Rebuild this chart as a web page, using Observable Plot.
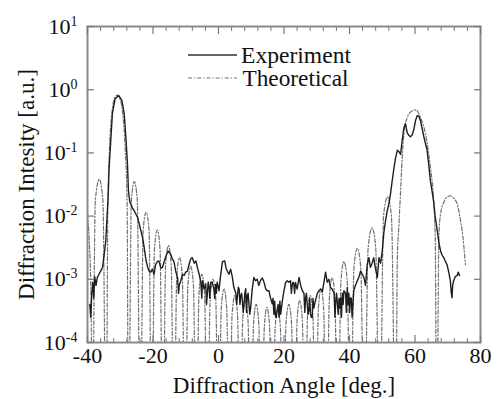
<!DOCTYPE html>
<html><head><meta charset="utf-8">
<script src="https://cdn.jsdelivr.net/npm/d3@7"></script>
<script src="https://cdn.jsdelivr.net/npm/@observablehq/plot@0.6"></script>
<style>html,body{margin:0;padding:0;background:#fff;}</style>
</head><body><div id="chart"></div>
<script>
const seriesNames = ["Experiment", "Theoretical"];
const xTitle = "Diffraction Angle [deg.]";
const yTitle = "Diffraction Intesity [a.u.]";
const xMajor = [-40, -20, 0, 20, 40, 60, 80];
const xMinor = [-36,-32,-28,-24,-16,-12,-8,-4,4,8,12,16,24,28,32,36,44,48,52,56,64,68,72,76];
const yTicks = [1e-4, 1e-3, 1e-2, 1e-1, 1, 10];

// Experiment [angle, intensity]
const experiment = [
[-39.3,0.0004],[-39.0,0.00025],[-38.7,0.0006],[-38.4,0.0009],[-38.1,0.0005],[-37.8,0.0011],[-37.4,0.0008],
[-37.0,0.00107],[-36.5,0.0012],[-36.0,0.00135],[-35.4,0.00155],[-34.9,0.0025],[-34.4,0.0041],[-34.1,0.0085],
[-33.7,0.020],[-33.4,0.059],[-32.9,0.155],[-32.4,0.42],[-31.6,0.71],[-30.5,0.81],[-29.5,0.68],[-28.8,0.42],
[-28.3,0.18],[-27.8,0.068],[-27.5,0.025],[-27.1,0.017],[-26.8,0.0155],[-26.3,0.0135],[-25.8,0.0123],
[-25.2,0.0107],[-24.7,0.0095],[-24.2,0.0075],[-23.7,0.0059],[-23.2,0.0046],[-22.7,0.0032],[-22.2,0.0021],
[-21.7,0.0016],[-21.2,0.00135],[-20.7,0.0013],[-20.2,0.00145],[-19.7,0.0012],[-19.2,0.0017],[-18.7,0.0019],
[-18.2,0.00195],[-17.6,0.0015],[-17.1,0.00155],[-16.6,0.0019],[-16.1,0.0023],[-15.4,0.0028],[-14.6,0.0025],
[-14.1,0.0021],[-13.6,0.0019],[-13.0,0.0013],[-12.5,0.00107],[-12.2,0.0006],[-12.0,0.0008],[-11.5,0.00095],
[-11.0,0.0012],[-10.5,0.00115],[-10.0,0.0013],[-9.5,0.00135],[-9.0,0.0017],[-8.5,0.0021],[-8.0,0.0022],
[-7.4,0.0018],[-6.9,0.00195],[-6.4,0.0015],[-5.9,0.0012],[-5.4,0.0009],[-5.1,0.0005],[-4.9,0.00095],
[-4.4,0.0007],[-3.9,0.00085],[-3.65,0.0004],[-3.4,0.0006],[-3.15,0.0009],[-2.9,0.00074],[-2.65,0.0005],
[-2.4,0.0009],[-1.9,0.00089],[-1.4,0.0007],[-1.15,0.0005],[-0.9,0.00083],[-0.65,0.0006],[-0.4,0.0009],
[0.15,0.00066],[0.6,0.0011],[1.2,0.0019],[1.9,0.00195],[2.3,0.0015],
[2.7,0.00135],[3.2,0.0012],[3.7,0.00145],[4.2,0.0011],[4.7,0.00074],[5.3,0.0006],[5.55,0.0004],[5.8,0.00055],
[6.05,0.00075],[6.3,0.0007],[6.55,0.0004],[6.8,0.00055],[7.05,0.0006],[7.3,0.00045],[7.55,0.0003],[7.8,0.00041],
[8.05,0.0006],[8.3,0.00071],[8.55,0.0003],[8.8,0.00055],[9.05,0.0006],[9.3,0.0004],[9.55,0.00028],
[9.8,0.00035],[10.3,0.0007],[10.8,0.00107],[11.3,0.00095],[11.8,0.001],[12.3,0.0008],[12.8,0.00095],
[13.4,0.00105],[13.9,0.0009],[14.4,0.00071],[14.9,0.00066],[15.4,0.00066],[15.9,0.0005],[16.4,0.00041],
[16.65,0.0005],[16.9,0.00028],[17.15,0.00045],[17.4,0.00026],[17.65,0.00025],[17.9,0.00032],[18.2,0.0004],
[18.5,0.00025],[18.75,0.00045],[19.0,0.00028],[19.5,0.00046],[20.0,0.00066],
[20.5,0.00089],[21.0,0.00095],[21.5,0.0009],[22.0,0.00095],[22.25,0.0006],[22.5,0.0008],[22.75,0.0009],
[23.0,0.00085],[23.25,0.0006],[23.5,0.00089],
[24.0,0.0007],[24.6,0.00107],[25.1,0.0008],[25.6,0.00066],[26.1,0.0006],[26.35,0.0003],[26.6,0.00051],
[26.85,0.0006],[27.1,0.0004],[27.35,0.00028],[27.6,0.00032],[27.85,0.0005],[28.1,0.00028],[28.35,0.00025],
[28.6,0.00025],[28.85,0.0005],[29.1,0.00035],[29.6,0.00046],[30.2,0.0006],[30.7,0.00066],
[31.2,0.0007],[31.7,0.00063],[32.2,0.0009],[32.7,0.0013],[33.2,0.0009],[33.7,0.001],[34.2,0.00074],
[34.7,0.0007],[35.3,0.0006],[35.55,0.00025],[35.8,0.00045],[36.05,0.0006],[36.3,0.00041],[36.55,0.00028],
[36.8,0.0005],[37.05,0.00035],[37.3,0.00051],[37.55,0.00025],[37.8,0.0006],[38.05,0.0004],
[38.3,0.00066],[38.8,0.0006],[39.05,0.0003],[39.3,0.00074],[39.55,0.0004],[39.8,0.0006],[40.05,0.0003],
[40.3,0.00051],[40.55,0.0005],[40.8,0.00025],[41.3,0.00066],
[41.8,0.0008],[42.4,0.00095],[42.9,0.0011],[43.4,0.00135],[43.9,0.0012],[44.4,0.00107],[44.9,0.0008],
[45.4,0.0017],[45.9,0.0022],[46.4,0.00155],[46.9,0.0018],[47.4,0.0022],[47.9,0.0015],[48.5,0.00107],
[49.0,0.0022],[49.5,0.0018],[50.0,0.0028],[50.5,0.0055],[51.0,0.0085],[51.5,0.012],[52.0,0.0155],
[52.5,0.022],[53.0,0.035],[53.6,0.059],[54.1,0.085],[54.6,0.11],[55.1,0.105],[55.6,0.095],[56.1,0.16],
[56.6,0.25],[57.1,0.29],[57.6,0.21],[58.1,0.19],[58.6,0.18],[59.1,0.19],[59.6,0.23],[60.2,0.33],
[60.7,0.39],[61.2,0.38],[61.7,0.32],[62.2,0.24],[62.7,0.18],[63.2,0.14],[63.7,0.11],[64.2,0.065],
[64.7,0.036],[65.2,0.025],[65.7,0.017],[66.2,0.0095],[66.8,0.0059],[67.3,0.0038],[67.8,0.0028],
[68.3,0.0024],[68.8,0.0022],[69.3,0.0019],[69.8,0.0017],[70.3,0.0013],[70.8,0.00095],[71.1,0.0006],
[71.3,0.00051],[71.5,0.0008],[71.8,0.00095],[72.3,0.0011],[72.9,0.00115],[73.2,0.0013],[73.6,0.00115]
];

// Theoretical [angle, intensity]; nulls fall far below the axis floor
const theoretical = [
[-40,0.0095],[-39.5,0.0045],[-38.9,0.0004],[-38.6,1e-6],
[-37.6,0.018],[-36.4,0.038],[-35.3,0.018],[-34.3,1e-6],
[-33.8,0.012],[-33.3,0.11],[-32.5,0.45],[-31.6,0.76],[-30.8,0.82],[-30.0,0.7],[-29.2,0.4],[-28.5,0.12],[-27.9,0.015],[-27.5,1e-6],
[-26.6,0.018],[-25.7,0.035],[-24.8,0.018],[-23.9,1e-6],
[-23.0,0.006],[-22.1,0.0115],[-21.2,0.006],[-20.4,1e-6],
[-19.55,0.003],[-18.7,0.006],[-17.85,0.003],[-17.0,1e-6],
[-16.15,0.0017],[-15.3,0.0034],[-14.45,0.0017],[-13.6,1e-6],
[-12.75,0.0011],[-11.9,0.0022],[-11.05,0.0011],[-10.2,1e-6],
[-9.35,0.0008],[-8.5,0.0016],[-7.65,0.0008],[-6.8,1e-6],
[-5.95,0.0006],[-5.1,0.0012],[-4.25,0.0006],[-3.4,1e-6],
[-2.55,0.0005],[-1.7,0.001],[-0.85,0.0005],[0,1e-6],
[0.85,0.00035],[1.7,0.0007],[2.5,0.00035],[3.35,1e-6],
[4.15,0.00028],[5.0,0.00055],[5.8,0.00028],[6.6,1e-6],
[7.4,0.00023],[8.2,0.00046],[9.0,0.00023],[9.85,1e-6],
[10.7,0.0002],[11.5,0.0004],[12.3,0.0002],[13.15,1e-6],
[14.0,0.00018],[14.8,0.00036],[15.6,0.00018],[16.45,1e-6],
[17.3,0.00017],[18.1,0.00035],[18.9,0.00017],[19.8,1e-6],
[20.6,0.0002],[21.5,0.0004],[22.3,0.0002],[23.15,1e-6],
[24.0,0.00023],[24.8,0.00046],[25.6,0.00023],[26.4,1e-6],
[27.2,0.00028],[28.0,0.00055],[28.8,0.00028],[29.65,1e-6],
[30.5,0.00035],[31.3,0.0007],[32.1,0.00035],[33.0,1e-6],
[33.85,0.0005],[34.7,0.00105],[35.55,0.0005],[36.4,1e-6],
[37.4,0.00095],[38.3,0.0019],[39.3,0.00095],[40.3,1e-6],
[41.35,0.0015],[42.4,0.0031],[43.45,0.0015],[44.5,1e-6],
[45.7,0.0032],[46.9,0.0065],[48.0,0.0032],[49.2,1e-6],
[50.4,0.01],[51.6,0.02],[52.8,0.01],[54.1,1e-6],
[54.6,0.002],[55.1,0.0074],[55.6,0.025],[56.1,0.085],[56.6,0.2],[57.6,0.36],[59.1,0.46],[60.2,0.48],
[61.7,0.36],[63.2,0.2],[64.7,0.059],[65.7,0.017],[66.2,0.004],[66.6,1e-6],
[67.3,0.005],[67.8,0.0107],[68.8,0.0166],[69.8,0.02],[70.8,0.021],[71.9,0.019],[72.9,0.0155],[73.9,0.0085],[74.4,0.0059],[75.4,0.0017]
];

const expData = experiment.map(([x, y]) => ({x, y}));
const thData = theoretical.map(([x, y]) => ({x, y}));

const font = "'Liberation Serif', 'Times New Roman', serif";
const sup = d => "10^" + Math.round(Math.log10(d));

const svg = Plot.plot({
  width: 501, height: 399,
  marginLeft: 87, marginRight: 21, marginTop: 26, marginBottom: 57,
  style: {fontFamily: font, fontSize: "22px", background: "#fff", color: "#111", overflow: "visible"},
  x: {domain: [-40, 80]},
  y: {type: "log", domain: [1e-4, 10]},
  marks: [
    Plot.line(thData, {x: "x", y: "y", stroke: "#707070", strokeWidth: 1.2, strokeDasharray: "4,2,1.2,2", curve: "monotone-x", clip: true}),
    Plot.line(expData, {x: "x", y: "y", stroke: "#1e1e1e", strokeWidth: 1.4, clip: true}),
    Plot.frame({stroke: "#8a8a8a", strokeWidth: 2}),
    Plot.axisX({ticks: xMajor, tickSize: 0, tickPadding: 5, tickFormat: d => String(d), label: xTitle, labelAnchor: "center", labelOffset: 50, labelArrow: "none", fontSize: 22}),
    Plot.axisX({ticks: xMajor, tickSize: -7, fill: "none", label: null, stroke: "#777", strokeWidth: 1.2}),
    Plot.axisX({ticks: xMinor, tickSize: -4, fill: "none", label: null, stroke: "#777"}),
    Plot.axisX({anchor: "top", ticks: xMajor, tickSize: -7, fill: "none", label: null, stroke: "#777", strokeWidth: 1.2}),
    Plot.axisX({anchor: "top", ticks: xMinor, tickSize: -4, fill: "none", label: null, stroke: "#777"}),
    Plot.axisY({ticks: yTicks, tickSize: 0, tickPadding: 10, tickFormat: sup, label: yTitle, labelAnchor: "center", labelOffset: 70, labelArrow: "none", fontSize: 22}),
    Plot.axisY({ticks: yTicks, tickSize: -7, fill: "none", label: null, stroke: "#777", strokeWidth: 1.2}),
    Plot.axisY({anchor: "right", ticks: yTicks, tickSize: -7, fill: "none", label: null, stroke: "#777", strokeWidth: 1.2})
  ]
});

// superscript exponents on y tick labels
svg.querySelectorAll("text").forEach(t => {
  const s = t.textContent;
  if (/^10\^-?\d+$/.test(s)) {
    const [base, exp] = s.split("^");
    t.textContent = "";
    const ns = "http://www.w3.org/2000/svg";
    const a = document.createElementNS(ns, "tspan"); a.textContent = base; t.appendChild(a);
    const b = document.createElementNS(ns, "tspan");
    b.textContent = exp; b.setAttribute("dy", "-8"); b.setAttribute("font-size", "14");
    t.appendChild(b);
  }
});
svg.querySelectorAll("text").forEach(t => { if (t.textContent === yTitle || t.textContent === xTitle) t.setAttribute("font-size", "23"); });

// legend inside the plot
const lg = d3.select(svg).append("g").attr("font-family", font).attr("font-size", 22.5).attr("fill", "#111").attr("text-anchor", "start");
const legendStyles = [
  {stroke: "#333", dash: null, w: 1.4},
  {stroke: "#707070", dash: "4,2,1.2,2", w: 1.2}
];
seriesNames.forEach((name, i) => {
  const yy = 55 + i * 23;
  const ln = lg.append("line").attr("x1", 188).attr("x2", 237).attr("y1", yy).attr("y2", yy)
    .attr("stroke", legendStyles[i].stroke).attr("stroke-width", legendStyles[i].w);
  if (legendStyles[i].dash) ln.attr("stroke-dasharray", legendStyles[i].dash);
  lg.append("text").attr("x", 241 + i * 1.5).attr("y", yy + 8).attr("text-anchor", "start")
    .attr("textLength", i === 0 ? 110 : 106).attr("lengthAdjust", "spacingAndGlyphs").text(name);
});

document.getElementById("chart").appendChild(svg);
</script></body></html>
